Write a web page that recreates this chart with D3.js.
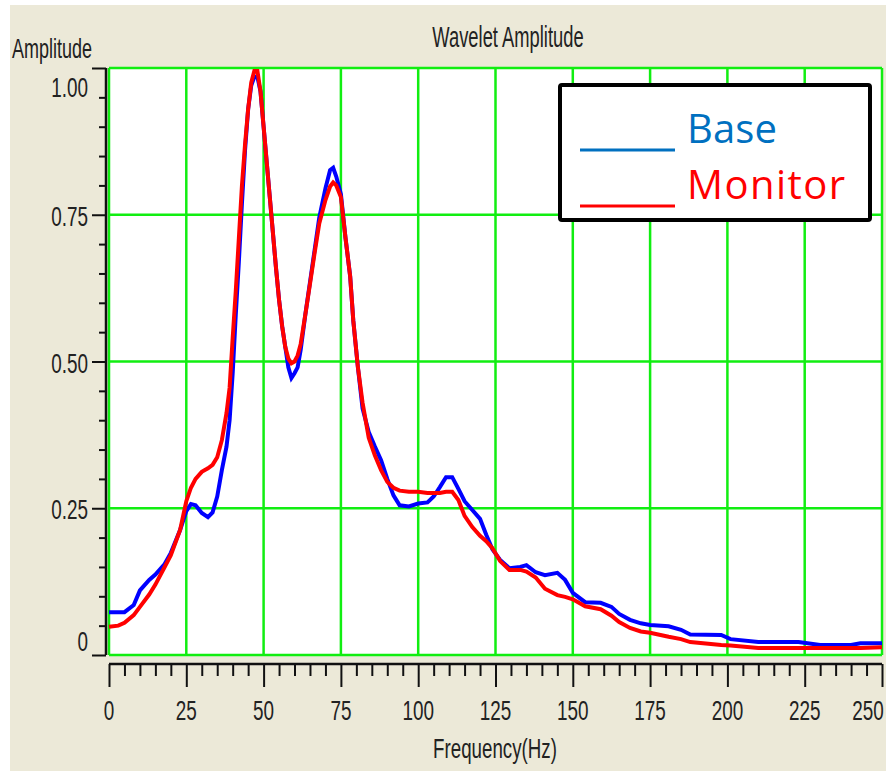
<!DOCTYPE html>
<html>
<head>
<meta charset="utf-8">
<script src="https://cdn.jsdelivr.net/npm/d3@7"></script>
<style>
  body { margin: 0; background: #fff; }
  text { font-family: "Liberation Sans", Arial, sans-serif; }
</style>
</head>
<body>
<div id="chart"></div>
<script>
// frequency samples (Hz)
const freq = [0, 3, 5, 8, 10, 13, 15, 18, 20, 23, 25, 26.5, 28, 30, 32, 33.5, 35, 36.5, 38, 39,
  40, 41, 42, 43, 44, 45, 46, 47, 48, 49, 50, 51, 52, 53, 54, 55, 56, 57, 58, 59,
  60, 61, 62, 63.5, 65, 66.5, 68, 70, 71.5, 72.5, 73.5, 75, 76.5, 78, 79, 80.5, 82, 84, 86, 88,
  90, 92, 94, 97, 100, 103, 105, 107, 109, 111, 113, 115, 117.5, 120, 122, 124, 126.5, 129.5,
  133, 135, 138, 141, 145, 147.5, 150, 154, 159, 162.5, 165, 168.5, 172, 175, 181, 185, 188,
  198, 201, 210, 223, 230, 240, 243, 250]

const base = [0.073, 0.073, 0.073, 0.085, 0.11, 0.128, 0.137, 0.155, 0.174, 0.213, 0.245, 0.257, 0.255, 0.242, 0.235, 0.243, 0.27, 0.315, 0.355, 0.40,
  0.48, 0.58, 0.67, 0.77, 0.86, 0.93, 0.97, 0.985, 0.985, 0.96, 0.90, 0.84, 0.78, 0.72, 0.66, 0.605, 0.56, 0.525, 0.49, 0.472,
  0.48, 0.49, 0.52, 0.58, 0.635, 0.69, 0.745, 0.795, 0.826, 0.83, 0.815, 0.785, 0.71, 0.645, 0.57, 0.49, 0.42, 0.38, 0.355, 0.332,
  0.30, 0.272, 0.255, 0.253, 0.258, 0.26, 0.27, 0.286, 0.303, 0.303, 0.283, 0.262, 0.247, 0.232, 0.205, 0.18, 0.162, 0.148,
  0.15, 0.153, 0.141, 0.136, 0.14, 0.128, 0.106, 0.09, 0.089, 0.082, 0.07, 0.06, 0.054, 0.051, 0.049, 0.043, 0.035,
  0.034, 0.027, 0.022, 0.022, 0.017, 0.017, 0.02, 0.02]

const monitor = [0.048, 0.05, 0.055, 0.068, 0.082, 0.103, 0.12, 0.15, 0.17, 0.213, 0.262, 0.285, 0.30, 0.312, 0.318, 0.324, 0.337, 0.366, 0.412, 0.455,
  0.54, 0.62, 0.71, 0.80, 0.87, 0.93, 0.975, 0.995, 0.995, 0.96, 0.90, 0.84, 0.78, 0.72, 0.66, 0.605, 0.56, 0.525, 0.505, 0.497,
  0.50, 0.51, 0.53, 0.58, 0.632, 0.685, 0.735, 0.775, 0.798, 0.805, 0.80, 0.78, 0.71, 0.645, 0.57, 0.49, 0.43, 0.37, 0.34, 0.315,
  0.295, 0.285, 0.28, 0.278, 0.278, 0.276, 0.276, 0.276, 0.278, 0.278, 0.264, 0.237, 0.218, 0.203, 0.194, 0.182, 0.16, 0.145,
  0.145, 0.142, 0.132, 0.113, 0.102, 0.099, 0.095, 0.083, 0.078, 0.067, 0.056, 0.046, 0.04, 0.038, 0.031, 0.027, 0.022,
  0.017, 0.016, 0.012, 0.012, 0.012, 0.012, 0.012, 0.013]

const xTicks = [0, 25, 50, 75, 100, 125, 150, 175, 200, 225, 250]
const yTicks = [0, 0.25, 0.5, 0.75, 1]
const yLabels = ["0", "0.25", "0.50", "0.75", "1.00"]

const W = 886, H = 772
const x = d3.scaleLinear([0, 250], [109, 882])
const y = d3.scaleLinear([0, 1], [655, 68])

const svg = d3.select('#chart')
  .append('svg')
    .attr('width', W)
    .attr('height', H)

// beige panel
svg.append('rect')
  .attr('x', 10).attr('y', 5)
  .attr('width', W - 10).attr('height', H - 6)
  .style('fill', '#ece9d8')

// plot area
svg.append('rect')
  .attr('x', x(0)).attr('y', y(1))
  .attr('width', x(250) - x(0)).attr('height', y(0) - y(1))
  .style('fill', 'white')

// green grid + border
const grid = svg.append('g')
  .style('stroke', '#11ee11')
  .style('stroke-width', 2.5)
grid.selectAll('.vg')
  .data(xTicks)
  .enter()
  .append('line')
    .attr('x1', d => x(d)).attr('x2', d => x(d))
    .attr('y1', y(0)).attr('y2', y(1))
grid.selectAll('.hg')
  .data(yTicks)
  .enter()
  .append('line')
    .attr('x1', x(0)).attr('x2', x(250))
    .attr('y1', d => y(d)).attr('y2', d => y(d))

// x axis (black, below the plot)
const xAxis = svg.append('g')
  .attr('transform', 'translate(0,664)')
  .call(d3.axisBottom(x).tickValues(d3.range(0, 251, 5)).tickSize(12).tickFormat(''))
xAxis.select('.domain').attr('d', `M${x(0)},0H${x(250)}`).style('stroke', '#111').style('stroke-width', 2.5)
xAxis.selectAll('.tick line')
  .style('stroke', '#111').style('stroke-width', 2)
  .attr('y2', d => d % 25 === 0 ? 23 : 12)

// y axis
const yAxis = svg.append('g')
  .attr('transform', 'translate(106,0)')
  .call(d3.axisLeft(y).tickValues(d3.range(0, 21).map(i => i / 20)).tickSize(7).tickFormat(''))
yAxis.select('.domain').attr('d', `M0,${y(1)}V${y(0)}`).style('stroke', '#111').style('stroke-width', 2.5)
yAxis.selectAll('.tick line')
  .style('stroke', '#111').style('stroke-width', 2)
  .attr('x2', (d, i) => i % 5 === 0 ? -14 : -7)

// stretched tahoma-like text
function label(g, tx, ty, str, anchor, sx, sy) {
  g.append('g')
    .attr('transform', `translate(${tx},${ty}) scale(${sx},${sy})`)
  .append('text')
    .attr('text-anchor', anchor)
    .style('font-size', '18px')
    .style('fill', '#222')
    .text(str)
}

// last label pulled in a bit so it stays on the page
xTicks.forEach(t => label(svg, Math.min(x(t), 868), 720, String(t), 'middle', 1.05, 1.55))
yTicks.forEach((t, i) => {
  let by = y(t) + 11
  if (t === 1) by = 97
  if (t === 0) by = 651
  label(svg, 88, by, yLabels[i], 'end', 1.05, 1.55)
})

label(svg, 12, 58, 'Amplitude', 'start', 1.0, 1.5)
label(svg, 508, 47, 'Wavelet Amplitude', 'middle', 1.02, 1.6)
label(svg, 495, 758, 'Frequency(Hz)', 'middle', 1.04, 1.55)

// curves
const line = d3.line()
  .x((d, i) => x(freq[i]))
  .y(d => y(d))

svg.append('path')
  .datum(base)
  .attr('d', line)
  .style('fill', 'none')
  .style('stroke', '#0000ff')
  .style('stroke-width', 4)

svg.append('path')
  .datum(monitor)
  .attr('d', line)
  .style('fill', 'none')
  .style('stroke', '#ff0000')
  .style('stroke-width', 4)

// legend
const lg = svg.append('g')
lg.append('rect')
  .attr('x', 560).attr('y', 85)
  .attr('width', 310).attr('height', 135)
  .attr('rx', 2)
  .style('fill', 'white')
  .style('stroke', '#000')
  .style('stroke-width', 4)

const legendItems = [
  { name: 'Base', color: '#0070c0', len: 90 },
  { name: 'Monitor', color: '#ff0000', len: 158 }
]
lg.selectAll('.item')
  .data(legendItems)
  .enter()
  .append('g')
    .attr('transform', (d, i) => `translate(0,${i * 56})`)
  .each(function (d) {
    const g = d3.select(this)
    g.append('line')
      .attr('x1', 580).attr('x2', 675)
      .attr('y1', 150).attr('y2', 150)
      .style('stroke', d.color)
      .style('stroke-width', 3)
    g.append('text')
      .attr('x', 687).attr('y', 143)
      .attr('textLength', d.len)
      .style('font-family', '"Open Sans", sans-serif')
      .style('font-size', '40px')
      .style('fill', d.color)
      .text(d.name)
  })
</script>
</body>
</html>
